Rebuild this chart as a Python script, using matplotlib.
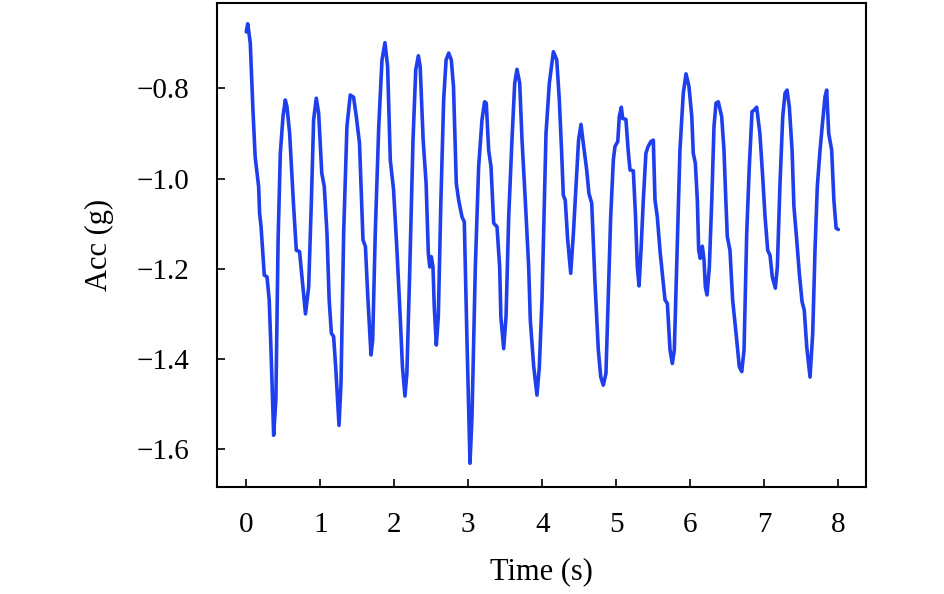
import matplotlib
matplotlib.use("Agg")
import matplotlib.pyplot as plt

time_s = [0.0, 0.02, 0.054, 0.09, 0.12, 0.167, 0.18, 0.20, 0.243, 0.28, 0.31, 0.334, 0.37, 0.40,
          0.43, 0.46, 0.496, 0.527, 0.55, 0.586, 0.64, 0.676, 0.72, 0.757, 0.80, 0.843, 0.88, 0.91,
          0.946, 0.978, 1.02, 1.054, 1.09, 1.12, 1.15, 1.18, 1.208, 1.253, 1.28, 1.316, 1.36, 1.405,
          1.45, 1.487, 1.53, 1.577, 1.61, 1.64, 1.685, 1.708, 1.743, 1.79, 1.834, 1.874, 1.91, 1.946,
          1.99, 2.036, 2.08, 2.11, 2.144, 2.17, 2.21, 2.253, 2.29, 2.325, 2.35, 2.39, 2.43, 2.46,
          2.48, 2.50, 2.523, 2.54, 2.568, 2.595, 2.63, 2.667, 2.70, 2.735, 2.77, 2.80, 2.838, 2.87,
          2.915, 2.946, 2.98, 3.023, 3.05, 3.095, 3.14, 3.185, 3.22, 3.243, 3.275, 3.307, 3.343,
          3.388, 3.424, 3.44, 3.478, 3.51, 3.546, 3.59, 3.627, 3.658, 3.695, 3.726, 3.77, 3.816,
          3.838, 3.884, 3.928, 3.96, 3.996, 4.05, 4.095, 4.15, 4.195, 4.23, 4.26, 4.284, 4.31, 4.343,
          4.384, 4.42, 4.455, 4.49, 4.523, 4.554, 4.60, 4.63, 4.668, 4.712, 4.757, 4.79, 4.824, 4.86,
          4.89, 4.924, 4.96, 4.982, 5.02, 5.04, 5.068, 5.086, 5.13, 5.16, 5.185, 5.23, 5.26, 5.284,
          5.307, 5.334, 5.365, 5.40, 5.43, 5.468, 5.50, 5.523, 5.554, 5.59, 5.627, 5.658, 5.69,
          5.726, 5.757, 5.784, 5.816, 5.86, 5.905, 5.942, 5.982, 6.02, 6.04, 6.068, 6.095, 6.113,
          6.135, 6.162, 6.185, 6.203, 6.226, 6.257, 6.29, 6.32, 6.347, 6.378, 6.424, 6.455, 6.48,
          6.50, 6.536, 6.572, 6.618, 6.662, 6.695, 6.726, 6.762, 6.797, 6.834, 6.865, 6.897, 6.94,
          6.978, 7.01, 7.046, 7.077, 7.108, 7.149, 7.176, 7.212, 7.249, 7.28, 7.307, 7.338, 7.375,
          7.40, 7.438, 7.473, 7.51, 7.54, 7.573, 7.618, 7.654, 7.685, 7.716, 7.753, 7.784, 7.82,
          7.843, 7.87, 7.91, 7.94, 7.97, 8.0]

acc_g = [-0.675, -0.657, -0.70, -0.848, -0.952, -1.018, -1.077, -1.107, -1.214, -1.218, -1.269,
         -1.38, -1.569, -1.49, -1.136, -0.944, -0.863, -0.826, -0.841, -0.90, -1.063, -1.159,
         -1.162, -1.225, -1.30, -1.24, -1.048, -0.87, -0.822, -0.855, -0.988, -1.018, -1.12,
         -1.269, -1.343, -1.35, -1.417, -1.547, -1.454, -1.12, -0.885, -0.815, -0.82, -0.863,
         -0.922, -1.136, -1.151, -1.255, -1.391, -1.358, -1.12, -0.885, -0.737, -0.699, -0.752,
         -0.959, -1.025, -1.159, -1.306, -1.417, -1.482, -1.432, -1.196, -0.915, -0.759, -0.728,
         -0.752, -0.915, -1.011, -1.166, -1.196, -1.173, -1.196, -1.284, -1.369, -1.306, -1.048,
         -0.826, -0.737, -0.722, -0.737, -0.796, -1.011, -1.048, -1.085, -1.096, -1.343, -1.631,
         -1.528, -1.196, -0.974, -0.87, -0.83, -0.833, -0.937, -0.974, -1.099, -1.107, -1.196,
         -1.306, -1.377, -1.306, -1.085, -0.915, -0.789, -0.758, -0.789, -0.915, -1.048, -1.196,
         -1.314, -1.417, -1.48, -1.417, -1.269, -0.90, -0.789, -0.719, -0.737, -0.826, -0.937,
         -1.037, -1.048, -1.136, -1.21, -1.122, -1.018, -0.915, -0.88, -0.922, -0.981, -1.033,
         -1.055, -1.232, -1.38, -1.44, -1.458, -1.432, -1.269, -1.085, -0.959, -0.929, -0.918,
         -0.863, -0.842, -0.867, -0.869, -0.937, -0.981, -0.983, -1.085, -1.196, -1.238, -1.159,
         -1.048, -0.944, -0.929, -0.918, -0.915, -1.048, -1.085, -1.159, -1.218, -1.269, -1.277,
         -1.38, -1.41, -1.38, -1.196, -0.937, -0.811, -0.768, -0.796, -0.863, -0.944, -0.966,
         -1.048, -1.159, -1.177, -1.15, -1.18, -1.24, -1.258, -1.196, -1.048, -0.885, -0.833,
         -0.83, -0.863, -0.937, -1.048, -1.129, -1.159, -1.269, -1.343, -1.417, -1.428, -1.38,
         -1.122, -0.974, -0.852, -0.848, -0.842, -0.90, -0.996, -1.085, -1.159, -1.17, -1.218,
         -1.243, -1.196, -1.011, -0.863, -0.811, -0.804, -0.841, -0.937, -1.062, -1.136, -1.21,
         -1.273, -1.292, -1.373, -1.44, -1.343, -1.159, -1.018, -0.937, -0.881, -0.819, -0.804,
         -0.90, -0.937, -1.048, -1.11, -1.113]

x_ticks = [0, 1, 2, 3, 4, 5, 6, 7, 8]
y_ticks = [-1.6, -1.4, -1.2, -1.0, -0.8]

plt.rcParams['font.family'] = 'serif'
plt.rcParams['font.serif'] = ['Liberation Serif', 'DejaVu Serif']

fig = plt.figure(figsize=(9.45, 5.94), dpi=100)
ax = fig.add_axes([0.2296, 0.1806, 0.6868, 0.8144])
ax.plot(time_s, acc_g, color='#1f3fec', lw=2.6, solid_joinstyle='round', solid_capstyle='round')

ax.set_xlim(-0.396, 8.374)
ax.set_ylim(-1.683, -0.611)
ax.set_xticks(x_ticks)
ax.set_xticklabels([str(v) for v in x_ticks])
ax.set_yticks(y_ticks)
ax.set_yticklabels([f"\u2212{abs(v):.1f}" for v in y_ticks])
ax.tick_params(direction='in', length=6, width=1.2, labelsize=21)
ax.tick_params(axis='y', pad=20)
ax.tick_params(axis='x', pad=18)
for s in ax.spines.values():
    s.set_linewidth(1.5)
ax.set_xlabel('Time (s)', fontsize=22, labelpad=14)
ax.set_ylabel('Acc (g)', fontsize=22, labelpad=16)

fig.savefig('out.png', dpi=100)
